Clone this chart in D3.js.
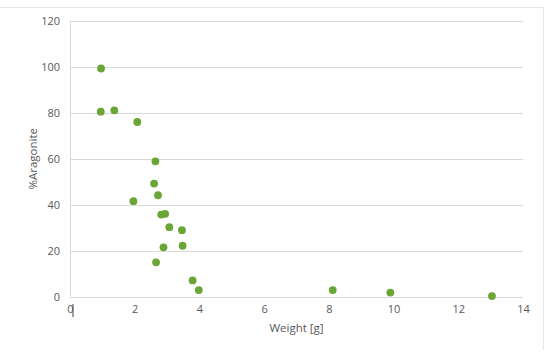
<!DOCTYPE html>
<html><head><meta charset="utf-8">
<script src="https://cdn.jsdelivr.net/npm/d3@7"></script>
<style>body{margin:0;background:#fff}svg{display:block}text{font-family:"Open Sans","Noto Sans",sans-serif;fill:#595959}</style>
</head><body><svg id="c" width="550" height="358"></svg>
<script>
const weight = [0.96,0.95,1.37,2.08,2.64,2.60,2.72,1.96,2.82,2.94,3.07,3.46,3.48,2.89,2.66,3.79,3.98,8.12,9.90,13.04];
const aragonite = [99.3,80.5,81.1,76.0,58.9,49.2,44.1,41.5,35.7,36.0,30.2,28.9,22.1,21.4,14.9,7.0,2.8,2.8,1.7,0.2];
const xTicks = [0,2,4,6,8,10,12,14];
const yTicks = [0,20,40,60,80,100,120];
const xTitle = "Weight [g]";
const yTitle = "%Aragonite";

const svg = d3.select("#c");
const L = 70, R = 523, T = 21, B = 296.5;
const x = d3.scaleLinear().domain([0,14]).range([L,R]);
const y = d3.scaleLinear().domain([0,120]).range([B,T]);

// frame
svg.append("line").attr("x1",0).attr("x2",543).attr("y1",7.5).attr("y2",7.5).attr("stroke","#e6e6e6");
svg.append("line").attr("x1",543.5).attr("x2",543.5).attr("y1",7).attr("y2",350).attr("stroke","#e6e6e6");

// gridlines
svg.append("g").selectAll("line").data(yTicks).join("line")
  .attr("x1",L).attr("x2",R).attr("y1",d=>Math.round(y(d))+0.5).attr("y2",d=>Math.round(y(d))+0.5)
  .attr("stroke","#d9d9d9").attr("stroke-width",1);
svg.append("line").attr("x1",L+0.5).attr("x2",L+0.5).attr("y1",T).attr("y2",B).attr("stroke","#d9d9d9");

// y axis labels
const ya = svg.append("g").attr("transform",`translate(${L},0)`).call(d3.axisLeft(y).tickValues(yTicks).tickSize(0).tickPadding(10));
ya.select(".domain").remove();
ya.selectAll("text").style("font-size","11px").attr("fill","#595959");

const xa = svg.append("g").attr("transform",`translate(0,${B})`).call(d3.axisBottom(x).tickValues(xTicks).tickSize(0).tickPadding(9));
xa.select(".domain").remove();
xa.selectAll("text").style("font-size","11px").attr("fill","#595959");

// cursor mark next to 0
svg.append("line").attr("x1",x(0)+3).attr("x2",x(0)+3).attr("y1",304).attr("y2",317).attr("stroke","#444").attr("stroke-width",1);

// titles
svg.append("text").attr("x",(L+R)/2).attr("y",332).attr("text-anchor","middle").style("font-size","11.5px").text(xTitle);
svg.append("text").attr("transform",`translate(37,${(T+B)/2}) rotate(-90)`).attr("text-anchor","middle").style("font-size","11.5px").text(yTitle);

// points
svg.append("g").selectAll("circle").data(weight.map((w,i)=>[w,aragonite[i]])).join("circle")
  .attr("cx",d=>x(d[0])).attr("cy",d=>y(d[1])).attr("r",3.9).attr("fill","#6aa636");
</script></body></html>
